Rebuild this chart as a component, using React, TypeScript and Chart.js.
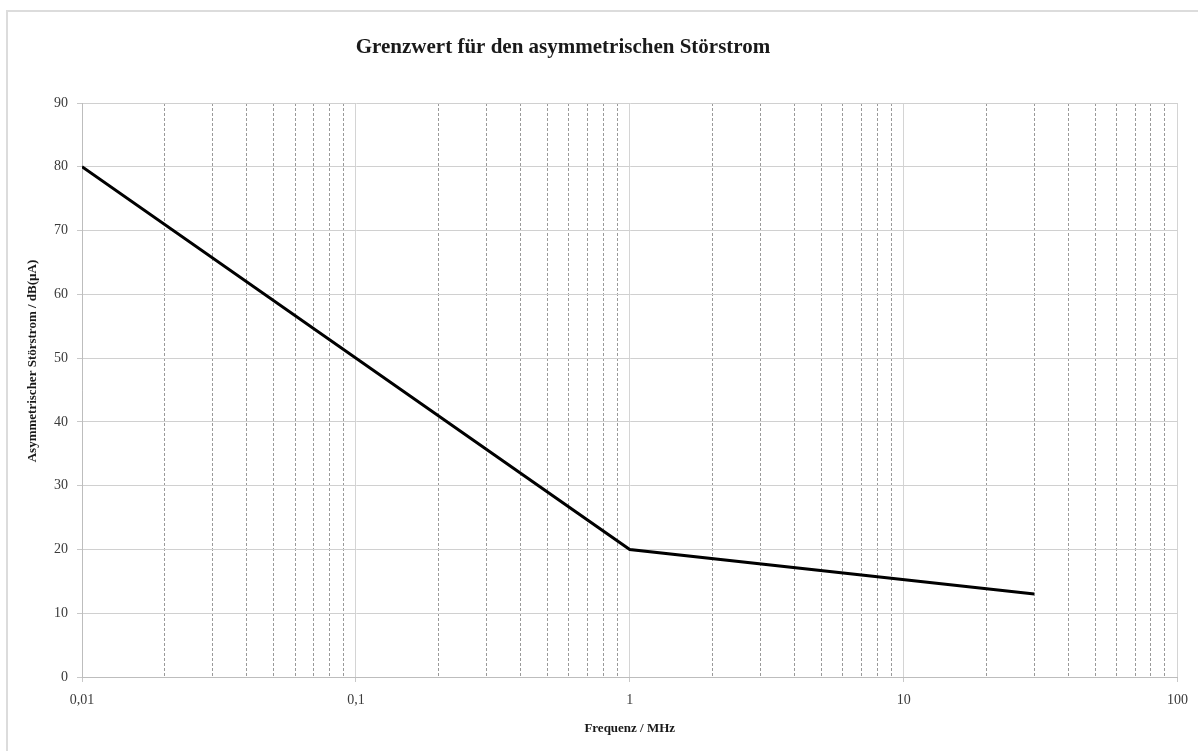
import React, { useEffect, useRef } from "react";
import { Chart, registerables } from "chart.js";

Chart.register(...registerables);

const frequencies = [0.01, 1, 30];
const levels = [80, 20, 13];
const decadeValues = [0.01, 0.1, 1, 10, 100];
const decadeLabels = ["0,01", "0,1", "1", "10", "100"];
const minorMultipliers = [2, 3, 4, 5, 6, 7, 8, 9];
const yTicks = [0, 10, 20, 30, 40, 50, 60, 70, 80, 90];

const titleText = "Grenzwert für den asymmetrischen Störstrom";
const xTitle = "Frequenz / MHz";
const yTitle = "Asymmetrischer Störstrom / dB(µA)";

const SERIF = "'Liberation Serif', 'DejaVu Serif', serif";

function isMajor(v: number | undefined): boolean {
  if (v === undefined || v === null) return true;
  const l = Math.log10(v);
  return Math.abs(l - Math.round(l)) < 1e-9;
}

function allXTicks(): number[] {
  const out: number[] = [];
  for (let i = 0; i < decadeValues.length; i++) {
    out.push(decadeValues[i]);
    if (i < decadeValues.length - 1) {
      for (const m of minorMultipliers) out.push(+(decadeValues[i] * m).toPrecision(6));
    }
  }
  return out;
}

const framePlugin = {
  id: "frameAndTitle",
  beforeDraw(chart: any) {
    const ctx = chart.ctx;
    ctx.save();
    ctx.fillStyle = "#ffffff";
    ctx.fillRect(0, 0, chart.width, chart.height);
    ctx.strokeStyle = "#dcdcdc";
    ctx.lineWidth = 2;
    ctx.beginPath();
    ctx.moveTo(7, chart.height);
    ctx.lineTo(7, 11);
    ctx.lineTo(chart.width, 11);
    ctx.stroke();
    ctx.restore();
  },
  afterDraw(chart: any) {
    const ctx = chart.ctx;
    ctx.save();
    ctx.font = `bold 21px ${SERIF}`;
    ctx.fillStyle = "#1a1a1a";
    ctx.textAlign = "center";
    ctx.textBaseline = "middle";
    ctx.fillText(titleText, 563, 48);
    ctx.restore();

    ctx.save();
    ctx.translate(33, 361);
    ctx.rotate(-Math.PI / 2);
    ctx.font = `bold 13px ${SERIF}`;
    ctx.fillStyle = "#1a1a1a";
    ctx.textAlign = "center";
    ctx.textBaseline = "middle";
    ctx.fillText(yTitle, 0, 0);
    ctx.restore();
  },
};

export default function App() {
  const ref = useRef<HTMLCanvasElement | null>(null);

  useEffect(() => {
    if (!ref.current) return;
    const points = frequencies.map((f, i) => ({ x: f, y: levels[i] }));
    const chart = new Chart(ref.current, {
      type: "line",
      data: {
        datasets: [
          {
            data: points,
            borderColor: "#000000",
            borderWidth: 3,
            pointRadius: 0,
            tension: 0,
            fill: false,
          },
        ],
      },
      options: {
        animation: false,
        responsive: true,
        maintainAspectRatio: false,
        layout: { padding: { left: 0, top: 103, right: 18, bottom: 0 } },
        plugins: {
          legend: { display: false },
          title: { display: false },
          tooltip: { enabled: false },
        },
        scales: {
          x: {
            type: "logarithmic",
            min: 0.01,
            max: 100,
            afterBuildTicks: (scale: any) => {
              scale.ticks = allXTicks().map((v) => ({ value: v, major: isMajor(v) }));
            },
            afterFit: (scale: any) => {
              scale.height = 74;
            },
            ticks: {
              autoSkip: false,
              maxRotation: 0,
              padding: 10,
              color: "#3a3a3a",
              font: { family: SERIF, size: 14 },
              callback: (value: any) => {
                const v = Number(value);
                const idx = decadeValues.findIndex((d) => Math.abs(d - v) / d < 1e-6);
                return idx >= 0 ? decadeLabels[idx] : "";
              },
            },
            grid: {
              color: (c: any) => (isMajor(c.tick?.value) ? "#d4d4d4" : "#9a9a9a"),
              lineWidth: 1,
              tickLength: 5,
              tickColor: (c: any) => (isMajor(c.tick?.value) ? "#c8c8c8" : "rgba(0,0,0,0)"),
            },
            border: {
              color: "#bdbdbd",
              width: 1,
              dash: (c: any) => (c.tick && !isMajor(c.tick.value) ? [3, 2] : []),
            },
            title: {
              display: true,
              text: xTitle,
              color: "#1a1a1a",
              font: { family: SERIF, size: 13, weight: "bold" },
              padding: { top: 0, bottom: 15 },
            },
          },
          y: {
            type: "linear",
            min: 0,
            max: 90,
            afterBuildTicks: (scale: any) => {
              scale.ticks = yTicks.map((v) => ({ value: v }));
            },
            afterFit: (scale: any) => {
              scale.width = 82;
            },
            ticks: {
              padding: 9,
              color: "#3a3a3a",
              font: { family: SERIF, size: 14 },
            },
            grid: {
              color: "#d0d0d0",
              lineWidth: 1,
              tickLength: 5,
              tickColor: "#c8c8c8",
            },
            border: { color: "#bdbdbd", width: 1 },
            title: { display: false },
          },
        },
      },
      plugins: [framePlugin],
    } as any);
    return () => chart.destroy();
  }, []);

  return (
    <div style={{ position: "absolute", left: 0, top: 0, width: 1198, height: 751 }}>
      <canvas ref={ref} />
    </div>
  );
}
